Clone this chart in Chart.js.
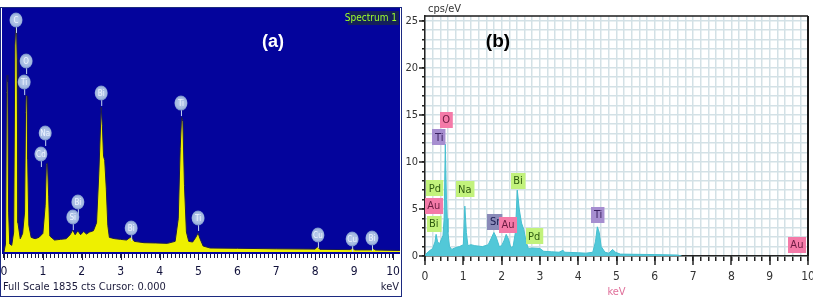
<!DOCTYPE html>
<html><head><meta charset="utf-8">
<script src="https://cdn.jsdelivr.net/npm/chart.js@4.4.1/dist/chart.umd.min.js"></script>
<style>
html,body{margin:0;padding:0;background:#fff;width:813px;height:300px;overflow:hidden;}
#ca{position:absolute;left:0;top:0;width:403px;height:300px;}
#cb{position:absolute;left:403px;top:0;width:410px;height:300px;}
</style></head><body>
<canvas id="ca" width="403" height="300"></canvas>
<canvas id="cb" width="410" height="300"></canvas>
<script>
// ---------- Panel (a) : spectrum counts vs keV ----------
const keVA = [0.00,0.04,0.065,0.08,0.10,0.12,0.15,0.20,0.25,0.28,0.30,0.325,0.34,0.36,0.42,0.48,0.53,0.555,0.57,0.595,0.61,0.64,0.70,0.80,0.90,1.00,1.06,1.09,1.12,1.15,1.18,1.30,1.45,1.60,1.70,1.77,1.83,1.90,1.97,2.05,2.12,2.20,2.30,2.38,2.44,2.47,2.50,2.53,2.56,2.59,2.63,2.67,2.71,2.85,3.00,3.15,3.27,3.35,3.60,3.90,4.20,4.40,4.48,4.53,4.565,4.60,4.64,4.69,4.75,4.85,4.93,4.99,5.04,5.12,5.30,6.00,7.00,8.00,8.06,8.12,8.90,8.96,9.02,9.45,9.50,9.55,10.18];
const ctsA = [0,60,1200,1330,1280,300,60,50,150,1550,1685,1685,1450,220,100,140,300,1050,1180,1170,700,200,110,100,110,140,350,660,670,420,120,90,95,100,130,165,130,160,130,155,135,150,160,220,600,850,1090,950,720,690,480,200,110,100,95,90,115,80,70,68,65,80,250,780,1015,980,500,150,80,75,110,143,100,45,30,28,24,22,40,20,18,28,16,16,24,15,12];
const ticksA = [0,1,2,3,4,5,6,7,8,9,10];
const fullScaleA = 1835;
const peakNamesA = ['C','O','Ti','Na','Cd','Bi','Ti','Bi','Si','Bi','Ti','Cu','Cu','Bi'];
const peakKeVA   = [0.31,0.57,0.52,1.06,0.95,2.50,4.55,1.90,1.77,3.27,4.99,8.07,8.95,9.46];
const peakLvlA   = [1745,1436,1278,895,737,1196,1120,376,263,180,256,128,98,105];

// ---------- Panel (b) : cps/eV vs keV ----------
const keVB = [0.00,0.02,0.10,0.20,0.26,0.29,0.33,0.38,0.43,0.47,0.50,0.53,0.56,0.58,0.60,0.64,0.70,0.80,0.90,1.00,1.04,1.08,1.12,1.20,1.30,1.50,1.65,1.72,1.80,1.86,1.94,2.00,2.06,2.12,2.18,2.24,2.30,2.36,2.41,2.46,2.52,2.58,2.64,2.70,2.80,3.00,3.10,3.30,3.50,3.60,3.65,4.00,4.20,4.38,4.45,4.50,4.55,4.60,4.70,4.80,4.90,4.97,5.10,6.00,6.60,6.70];
const cpsB = [0,0.2,0.5,0.8,1.5,2.3,1.5,1.3,1.8,2.2,4.0,11.9,6.0,4.0,2.5,1.0,0.7,0.9,1.0,1.2,5.3,2.5,1.1,1.2,1.1,1.0,1.2,1.8,2.5,2.0,1.0,1.1,1.6,2.3,1.8,0.9,1.0,2.5,7.0,5.0,3.5,2.8,1.5,0.8,0.85,0.8,0.5,0.45,0.4,0.6,0.4,0.35,0.3,0.4,1.5,3.1,2.5,1.0,0.4,0.3,0.7,0.4,0.2,0.15,0.1,0];
const ticksBx = [0,1,2,3,4,5,6,7,8,9,10];
const ticksBy = [0,5,10,15,20,25];
const peakNamesB = ['O','Ti','Pd','Au','Bi','Na','Sr','Au','Bi','Pd','Ti','Au'];
const peakKeVB   = [0.55,0.37,0.26,0.23,0.23,1.04,1.83,2.17,2.43,2.85,4.52,9.71];
const peakLvlB   = [14.5,12.6,7.2,5.3,3.4,7.1,3.6,3.3,8.0,2.1,4.4,1.2];

const NARROW = "'Liberation Sans Narrow','DejaVu Sans Condensed',sans-serif";
const isInt = v => Math.abs(v - Math.round(v)) < 1e-6;
const noPad = s => { s.paddingLeft = 0; s.paddingRight = 0; s.paddingTop = 0; s.paddingBottom = 0; };

// ---------- helpers ----------
function bubble(ctx, x, y, text){
  ctx.save();
  ctx.strokeStyle = '#c4d6f2'; ctx.lineWidth = 1;
  ctx.beginPath(); ctx.moveTo(x+0.5, y+7); ctx.lineTo(x+0.5, y+13); ctx.stroke();
  const g = ctx.createRadialGradient(x, y, 1, x, y, 8);
  g.addColorStop(0, '#b8cbeb'); g.addColorStop(0.65, '#a2b8e0'); g.addColorStop(1, '#5f78c0');
  ctx.fillStyle = g;
  ctx.beginPath(); ctx.ellipse(x, y, 6.5, 7.5, 0, 0, Math.PI*2); ctx.fill();
  ctx.fillStyle = '#eef4ff'; ctx.font = '8px ' + NARROW;
  ctx.textAlign = 'center'; ctx.textBaseline = 'middle';
  ctx.fillText(text, x, y+0.5);
  ctx.restore();
}
const tagColors = {
  O:['#f47aa8','#6a1a40'], Au:['#f47aa8','#6a1a40'],
  Ti:['#a68ed0','#3a2060'], Sr:['#8a8ab8','#1a1a50'],
  Pd:['#c2f27c','#2e5a10'], Bi:['#c2f27c','#2e5a10'], Na:['#c2f27c','#2e5a10']
};
function tag(ctx, x, y, text){
  const c = tagColors[text];
  ctx.save();
  ctx.font = '11px ' + NARROW;
  const w = Math.max(12, ctx.measureText(text).width + 5), h = 16;
  ctx.fillStyle = c[0]; ctx.fillRect(Math.round(x - w/2), Math.round(y - h/2), w, h);
  ctx.fillStyle = c[1]; ctx.textAlign = 'center'; ctx.textBaseline = 'middle';
  ctx.fillText(text, x, y+0.5);
  ctx.restore();
}

// ---------- chart (a) ----------
const plugA = {
  id:'plugA',
  beforeDraw(chart){
    const {ctx, chartArea:a} = chart;
    ctx.save();
    ctx.fillStyle = '#fff'; ctx.fillRect(0,0,chart.width,chart.height);
    ctx.fillStyle = '#04049c'; ctx.fillRect(a.left, a.top, a.right-a.left, a.bottom-a.top);
    ctx.restore();
  },
  afterDatasetsDraw(chart){
    const {ctx, scales:{x,y}} = chart;
    peakNamesA.forEach((n,i)=> bubble(ctx, x.getPixelForValue(peakKeVA[i]), y.getPixelForValue(peakLvlA[i]), n));
  },
  afterDraw(chart){
    const {ctx, chartArea:a, scales:{x}} = chart;
    ctx.save();
    ctx.strokeStyle = '#1a1a40'; ctx.lineWidth = 1;
    ticksA.forEach(v=>{ const px = Math.round(x.getPixelForValue(v))+0.5;
      ctx.beginPath(); ctx.moveTo(px, a.bottom); ctx.lineTo(px, a.bottom+6); ctx.stroke(); });
    ctx.fillStyle = '#14205a'; ctx.fillRect(348, 11, 51, 14);
    ctx.fillStyle = '#9cff2e'; ctx.font = '10px ' + NARROW;
    ctx.textAlign = 'right'; ctx.textBaseline = 'middle'; ctx.fillText('Spectrum 1', 397, 18.5);
    ctx.fillStyle = '#ffffff'; ctx.font = 'bold 18px "Liberation Sans",Arial,sans-serif';
    ctx.textAlign = 'center'; ctx.fillText('(a)', 273, 42);
    ctx.fillStyle = '#1a1a3a'; ctx.font = '11px ' + NARROW; ctx.textAlign = 'left';
    ctx.fillText('Full Scale ' + fullScaleA + ' cts Cursor: 0.000', 3, 287);
    ctx.textAlign = 'right'; ctx.fillText('keV', 399, 287);
    ctx.strokeStyle = '#1c2a80'; ctx.lineWidth = 1;
    ctx.strokeRect(0.5, 7.5, 401, 289);
    ctx.restore();
  }
};
new Chart(document.getElementById('ca'), {
  type:'line',
  data:{datasets:[{data: keVA.map((k,i)=>({x:k, y:ctsA[i]})), fill:'origin',
    backgroundColor:'#eef000', borderColor:'#1c1c50', borderWidth:1, pointRadius:0, tension:0}]},
  options:{
    animation:false, responsive:false, devicePixelRatio:1,
    layout:{padding:{left:2, right:3, top:8, bottom:0}},
    plugins:{legend:{display:false}, tooltip:{enabled:false}, title:{display:false}},
    scales:{
      x:{type:'linear', min:-0.05, max:10.18,
        afterBuildTicks: s => { const t=[]; for(let i=0;i<=100;i++) t.push({value:i/10}); s.ticks = t; },
        afterFit: s => { s.height = 46; noPad(s); },
        border:{display:false},
        grid:{drawOnChartArea:false, drawTicks:true, tickLength:4, tickColor:'#1a1a40', tickWidth:1},
        ticks:{autoSkip:false, maxRotation:0, minRotation:0, padding:7, color:'#10103a',
          font:{family:NARROW, size:12}, callback: v => isInt(v) ? String(Math.round(v)) : ''}
      },
      y:{display:false, min:-15, max:fullScaleA}
    }
  },
  plugins:[plugA]
});

// ---------- chart (b) ----------
const plugB = {
  id:'plugB',
  beforeDraw(chart){
    const {ctx} = chart; ctx.save(); ctx.fillStyle='#fff'; ctx.fillRect(0,0,chart.width,chart.height); ctx.restore();
  },
  afterDatasetsDraw(chart){
    const {ctx, scales:{x,y}} = chart;
    peakNamesB.forEach((n,i)=> tag(ctx, x.getPixelForValue(peakKeVB[i]), y.getPixelForValue(peakLvlB[i]), n));
  },
  afterDraw(chart){
    const {ctx, chartArea:a, scales:{x,y}} = chart;
    ctx.save();
    ctx.strokeStyle = '#222'; ctx.lineWidth = 1.5;
    ticksBx.forEach(v=>{ const px = Math.round(x.getPixelForValue(v));
      ctx.beginPath(); ctx.moveTo(px, a.bottom); ctx.lineTo(px, a.bottom+9); ctx.stroke(); });
    ticksBy.forEach(v=>{ const py = Math.round(y.getPixelForValue(v));
      ctx.beginPath(); ctx.moveTo(a.left, py); ctx.lineTo(a.left-6, py); ctx.stroke(); });
    ctx.strokeStyle = '#1a1a1a'; ctx.lineWidth = 1.5;
    ctx.beginPath(); ctx.moveTo(a.left, a.top); ctx.lineTo(a.right, a.top); ctx.stroke();
    ctx.lineWidth = 2;
    ctx.beginPath(); ctx.moveTo(a.right, a.top); ctx.lineTo(a.right, a.bottom); ctx.stroke();
    ctx.fillStyle = '#333'; ctx.font = '11px ' + NARROW; ctx.textAlign='left'; ctx.textBaseline='middle';
    ctx.fillText('cps/eV', a.left+3, 9);
    ctx.fillStyle = '#000'; ctx.font = 'bold 19px "Liberation Sans",Arial,sans-serif'; ctx.textAlign='center';
    ctx.fillText('(b)', 95, 42);
    ctx.restore();
  }
};
new Chart(document.getElementById('cb'), {
  type:'line',
  data:{datasets:[{data: keVB.map((k,i)=>({x:k, y:cpsB[i]})), fill:'origin',
    backgroundColor:'#52c8d8', borderColor:'#45bfd0', borderWidth:1, pointRadius:0, tension:0}]},
  options:{
    animation:false, responsive:false, devicePixelRatio:1,
    layout:{padding:{left:0, right:5, top:16, bottom:0}},
    plugins:{legend:{display:false}, tooltip:{enabled:false}},
    scales:{
      x:{type:'linear', min:0, max:10,
        afterBuildTicks: s => { const t=[]; for(let i=0;i<=50;i++) t.push({value:i/5}); s.ticks = t; },
        afterFit: s => { s.height = 44; noPad(s); },
        border:{display:true, color:'#222', width:1.5},
        grid:{color:'#d3e1e6', lineWidth:1.5, drawTicks:true, tickLength:5, tickColor:'#222', tickWidth:1.5},
        ticks:{autoSkip:false, maxRotation:0, minRotation:0, padding:9, color:'#333',
          font:{family:NARROW, size:12}, callback: v => isInt(v) ? String(Math.round(v)) : ''},
        title:{display:true, text:'keV', color:'#e0709a', font:{family:NARROW, size:11}, padding:{top:0, bottom:1}}
      },
      y:{type:'linear', min:0, max:25.5,
        afterBuildTicks: s => { const t=[]; for(let i=0;i<=25;i++) t.push({value:i}); s.ticks = t; },
        afterFit: s => { s.width = 22; noPad(s); },
        border:{display:true, color:'#222', width:1.5},
        grid:{color:'#d3e1e6', lineWidth:1.5, drawTicks:true, tickLength:3, tickColor:'#222', tickWidth:1.5},
        ticks:{autoSkip:false, padding:4, color:'#333', font:{family:NARROW, size:11},
          callback: v => (Math.round(v) % 5 === 0) ? String(Math.round(v)) : ''}
      }
    }
  },
  plugins:[plugB]
});
</script>
</body></html>
